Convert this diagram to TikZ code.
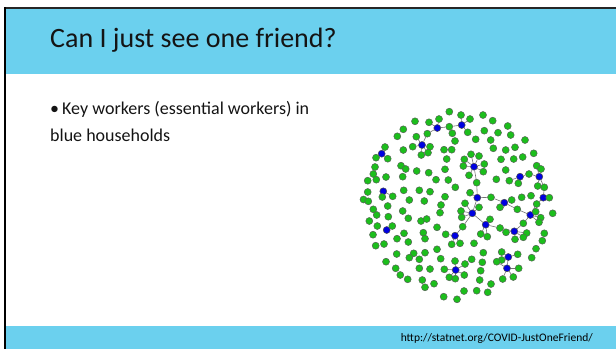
\documentclass[tikz,border=0pt]{standalone}
\usepackage{fontspec}
\setmainfont{Carlito}
\pgfdeclarelayer{edges}
\pgfsetlayers{edges,main}
\definecolor{band}{RGB}{107,208,238}
\definecolor{dotgreen}{RGB}{28,190,28}
\definecolor{dotblue}{RGB}{0,0,225}
\definecolor{rim}{RGB}{85,100,85}
\tikzset{
  gdot/.style={circle,fill=dotgreen,draw=rim,line width=0.5pt,inner sep=0pt,minimum size=7pt},
  bdot/.style={gdot,fill=dotblue,draw=black!70},
  link/.style={draw=black!55,line width=0.6pt},
  slidetext/.style={anchor=base west,inner sep=0pt,text=black!92},
}
% a household hub with its own members: #1 = hub name, #2 = x/y list
\newcommand\starleaves[2]{%
  \foreach \x/\y [count=\k] in {#2} {%
    \node[gdot] (#1l\k) at (\x,\y) {};
    \begin{pgfonlayer}{edges}\draw[link] (#1) -- (#1l\k);\end{pgfonlayer}
  }}
\begin{document}
\begin{tikzpicture}[x=1pt,y=-1pt]
\useasboundingbox (0,0) rectangle (616,349);
% slide bands and frame
\fill[band] (5.5,9) rectangle (616,74);
\fill[band] (5.5,326) rectangle (616,349);
\fill[black!85] (3.5,7) rectangle (616,9);
\fill[black] (3.5,7) rectangle (5.6,349);

% texts
\node[slidetext,font=\fontsize{28}{34}\selectfont] (title) at (50,47) {Can I just see one friend?};
\node[slidetext,font=\fontsize{18}{27}\selectfont] (bullet) at (50,114.3) {•};
\node[slidetext,font=\fontsize{18}{27}\selectfont] (line1) at (62,114.3) {Key workers (essential workers) in};
\node[slidetext,font=\fontsize{18}{27}\selectfont] (line2) at (50,141.5) {blue households};
\node[anchor=base east,inner sep=0pt,font=\fontsize{11.5}{14}\selectfont] (url) at (593,341.5) {http://statnet.org/COVID-JustOneFriend/};

% blue households (key workers)
\node[bdot] (b1) at (437.3,128) {};
\node[bdot] (b2) at (461.7,125) {};
\node[bdot] (b3) at (422,145) {};
\node[bdot] (b4) at (381.7,153.7) {};
\node[bdot] (b5) at (474,166.7) {};
\node[bdot] (b6) at (477.3,197.7) {};
\node[bdot] (b7) at (472.3,213.3) {};
\node[bdot] (b8) at (485.7,224.7) {};
\node[bdot] (b9) at (455,235.7) {};
\node[bdot] (b10) at (514.3,231.3) {};
\node[bdot] (b11) at (530.3,215) {};
\node[bdot] (b12) at (543.3,197.7) {};
\node[bdot] (b13) at (539.3,176.7) {};
\node[bdot] (b14) at (520,176.7) {};
\node[bdot] (b15) at (504.3,202.7) {};
\node[bdot] (b16) at (455.7,270) {};
\node[bdot] (b17) at (508.3,257) {};
\node[bdot] (b18) at (507,268.3) {};
\node[bdot] (b19) at (386.7,230) {};
\node[bdot] (b20) at (383.3,191.3) {};

% green contacts shared by two households
\node[gdot] (c12) at (449.3,126.7) {};
\node[gdot] (c13) at (427.3,133.7) {};
\node[gdot] (c56) at (476.7,182.7) {};
\node[gdot] (c615) at (491,197.3) {};
\node[gdot] (c1511) at (517.3,209.3) {};
\node[gdot] (c1112) at (536.7,204) {};
\node[gdot] (c1213) at (544.3,187.3) {};
\node[gdot] (c1314) at (529,174) {};
\node[gdot] (c1110) at (523.3,223.3) {};
\node[gdot] (c108) at (500,228) {};
\node[gdot] (c79) at (462.7,226.7) {};
\begin{pgfonlayer}{edges}
\draw[link] (b1) -- (c12) -- (b2);
\draw[link] (b1) -- (c13) -- (b3);
\draw[link] (b5) -- (c56) -- (b6);
\draw[link] (b6) -- (c615) -- (b15);
\draw[link] (b15) -- (c1511) -- (b11);
\draw[link] (b11) -- (c1112) -- (b12);
\draw[link] (b12) -- (c1213) -- (b13);
\draw[link] (b13) -- (c1314) -- (b14);
\draw[link] (b11) -- (c1110) -- (b10);
\draw[link] (b10) -- (c108) -- (b8);
\draw[link] (b7) -- (c79) -- (b9);
\draw[link] (b6) -- (b7) -- (b8);
\draw[link] (b17) -- (b18);
\end{pgfonlayer}

% contacts of each household
\starleaves{b1}{429/122.3, 439/119}
\starleaves{b2}{461/115, 470/119, 467.7/132.3}
\starleaves{b3}{416.3/136.7, 412.7/146.7, 430/146.7, 428/152.7, 421.3/155}
\starleaves{b4}{385/147, 376/157.7, 387.7/158.7}
\starleaves{b20}{392.7/196.3}
\starleaves{b19}{392.3/226}
\starleaves{b5}{471/154.3, 479/156, 464.3/159.3, 484.3/164, 463.3/166, 483.3/171.7, 469/175.3}
\starleaves{b6}{470/192.7}
\starleaves{b15}{511.7/200, 500/207.3}
\starleaves{b11}{535.7/211.7, 540.7/217.7, 539/222.3}
\starleaves{b12}{549.3/197.7}
\starleaves{b13}{536.7/165.7, 541/169, 537.7/186}
\starleaves{b14}{509.3/180.7, 518.3/183.3}
\starleaves{b10}{506/232.3, 526.7/233, 523.3/237.3, 515/239.3}
\starleaves{b8}{490/219.3, 480.7/234, 487.3/236.7}
\starleaves{b7}{461/211, 461.7/217.3, 465/203.3, 479/207.3}
\starleaves{b9}{445.7/234.3, 451.7/244.3, 460/243.3}
\starleaves{b16}{444.3/269.3, 449.3/277.3, 455.3/278.7, 464.3/275, 455/261, 465/264}
\starleaves{b17}{501.7/252, 517.7/254.3, 501.7/260}
\starleaves{b18}{518.7/268.3, 502.7/279, 513.3/277, 496.7/261.7}

% isolated green households
\foreach \x/\y [count=\k] in {
  449.3/111.7, 415/121.3, 403.3/129.3, 397.3/136.3, 452.3/133.3, 455/141,
  403.3/150, 444/149.7, 451.7/149.7, 446.7/159, 401/165.7, 405.7/169,
  375/167, 373.3/174, 367.7/180.7, 376.3/179.7, 386/177, 402.7/176.7,
  416.7/171, 428.7/172.7, 445/169.3, 436/179.7, 448.3/180, 455.3/187.3,
  382.3/197, 367.7/192, 363.5/199.5, 368.3/201.3, 403.7/190.3, 419.3/190.3,
  430/191.7, 445/196.7, 409.3/200, 424.3/201,
  483/115, 492.7/120.7, 507.7/126, 484.3/130.7, 498/132.7, 510.7/135,
  475.7/139.3, 490.7/140, 525/140, 493.3/148.3, 505.7/150, 515/147.3,
  533.7/153.3, 501/159.3, 513.7/159, 522.7/157, 505.7/170, 496.3/179.3,
  521.7/197.3, 531/195.7,
  387.7/206, 441/205, 373.3/209.3, 376.7/215, 388.3/216.7, 402.7/211,
  408.3/218.3, 440/212.7, 421/221, 426.7/219, 369.3/221, 377.3/226,
  437/227.3, 373/234.7, 404/233.3, 397/238.7, 423.3/232.7, 425/238.7,
  408.3/242, 384/244, 375.7/245.7, 396.7/254, 437/249.3, 413.7/253.3,
  409.3/257.7, 425/252.7, 419.3/259.3, 440.7/258.7, 386/261.7, 395.7/268.3,
  419.3/268.3, 430/269, 400.3/275, 407.7/279.3, 422.3/280, 434/283.7,
  425/287.3, 443.7/296.7, 457/299.3,
  552.7/213.3, 474/243.3, 544.3/233.3, 542.3/240.7, 536/248.7, 483.3/252.7,
  471.7/259.3, 531.7/257.7, 482.3/262.3, 480.7/270.7, 479.7/280, 491/284,
  464/291, 476.7/290.7, 487.7/292.3}
  \node[gdot] (g\k) at (\x,\y) {};
\end{tikzpicture}
\end{document}
